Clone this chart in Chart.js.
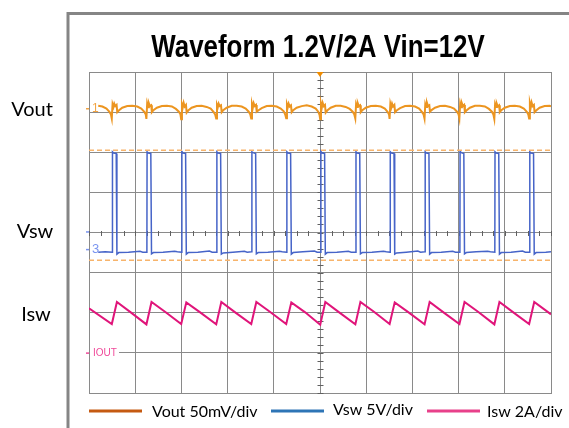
<!DOCTYPE html>
<html>
<head>
<meta charset="utf-8">
<script src="https://cdn.jsdelivr.net/npm/chart.js@4.4.1/dist/chart.umd.min.js"></script>
<style>
    html, body { margin: 0; padding: 0; background: #fff; overflow: hidden; }
    #wrap { position: relative; width: 569px; height: 428px; }
</style>
</head>
<body>
<div id="wrap"><canvas id="scope" width="569" height="428"></canvas></div>
<script>
const TITLE = "Waveform 1.2V/2A Vin=12V";
const TRACE_NAMES = ["Vout", "Vsw", "Isw"];
const LEGEND_TEXT = ["Vout 50mV/div", "Vsw 5V/div", "Isw 2A/div"];
const CH_MARKERS = ["1", "3", "IOUT"];

// time in divisions (10 across), level in divisions (8 tall)
const VOUT_T = [
    0.200, 0.291, 0.378, 0.443, 0.475,
    0.493, 0.510, 0.530, 0.547, 0.569, 0.597, 0.612, 0.645, 0.720, 0.829, 0.937, 1.045, 1.132, 1.197, 1.229,
    1.242, 1.259, 1.279, 1.296, 1.318, 1.346, 1.361, 1.394, 1.469, 1.578, 1.686, 1.794, 1.881, 1.946, 1.978,
    1.995, 2.012, 2.032, 2.049, 2.071, 2.099, 2.114, 2.147, 2.222, 2.331, 2.439, 2.547, 2.634, 2.699, 2.731,
    2.753, 2.770, 2.790, 2.807, 2.829, 2.857, 2.872, 2.905, 2.980, 3.089, 3.197, 3.305, 3.392, 3.457, 3.489,
    3.511, 3.528, 3.548, 3.565, 3.587, 3.615, 3.630, 3.663, 3.738, 3.847, 3.955, 4.063, 4.150, 4.215, 4.247,
    4.268, 4.285, 4.305, 4.322, 4.344, 4.372, 4.387, 4.420, 4.495, 4.604, 4.712, 4.820, 4.907, 4.962, 4.990,
    5.004, 5.021, 5.041, 5.058, 5.080, 5.108, 5.123, 5.156, 5.231, 5.340, 5.448, 5.556, 5.643, 5.708, 5.740,
    5.764, 5.781, 5.801, 5.818, 5.840, 5.868, 5.883, 5.916, 5.991, 6.100, 6.208, 6.316, 6.403, 6.463, 6.495,
    6.506, 6.523, 6.543, 6.560, 6.582, 6.610, 6.625, 6.658, 6.733, 6.842, 6.950, 7.058, 7.145, 7.210, 7.242,
    7.262, 7.279, 7.299, 7.316, 7.338, 7.366, 7.381, 7.414, 7.489, 7.598, 7.706, 7.814, 7.901, 7.966, 7.998,
    8.017, 8.034, 8.054, 8.071, 8.093, 8.121, 8.136, 8.169, 8.244, 8.353, 8.461, 8.569, 8.656, 8.721, 8.753,
    8.773, 8.790, 8.810, 8.827, 8.849, 8.877, 8.892, 8.925, 9.000, 9.109, 9.217, 9.325, 9.412, 9.477, 9.509,
    9.526, 9.543, 9.563, 9.580, 9.602, 9.630, 9.645, 9.678, 9.753, 9.862, 9.970, 10.000,
];
const VOUT_V = [
    7.16, 7.14, 7.09, 7.01, 6.94,
    6.84, 7.20, 7.13, 7.21, 7.15, 7.18, 7.00, 7.04, 7.11, 7.15, 7.16, 7.14, 7.09, 7.01, 6.94,
    6.83, 7.21, 7.12, 7.22, 7.15, 7.17, 7.00, 7.05, 7.11, 7.15, 7.16, 7.14, 7.08, 7.01, 6.95,
    6.82, 7.20, 7.13, 7.23, 7.14, 7.18, 6.99, 7.04, 7.11, 7.15, 7.16, 7.13, 7.09, 7.00, 6.94,
    6.84, 7.19, 7.13, 7.21, 7.15, 7.17, 7.00, 7.05, 7.11, 7.16, 7.16, 7.14, 7.09, 7.01, 6.95,
    6.84, 7.21, 7.12, 7.22, 7.15, 7.18, 7.01, 7.04, 7.10, 7.15, 7.16, 7.14, 7.09, 7.02, 6.94,
    6.85, 7.20, 7.13, 7.21, 7.14, 7.17, 7.00, 7.05, 7.11, 7.15, 7.17, 7.14, 7.09, 7.01, 6.93,
    6.82, 7.22, 7.12, 7.23, 7.15, 7.18, 6.99, 7.04, 7.11, 7.16, 7.16, 7.13, 7.08, 7.01, 6.95,
    6.84, 7.20, 7.13, 7.22, 7.15, 7.17, 7.00, 7.05, 7.11, 7.15, 7.16, 7.14, 7.09, 7.01, 6.94,
    6.83, 7.21, 7.12, 7.21, 7.14, 7.18, 7.00, 7.04, 7.10, 7.15, 7.16, 7.14, 7.09, 7.00, 6.94,
    6.84, 7.20, 7.13, 7.23, 7.15, 7.17, 7.01, 7.05, 7.11, 7.15, 7.16, 7.13, 7.09, 7.01, 6.95,
    6.84, 7.21, 7.12, 7.22, 7.15, 7.18, 7.00, 7.04, 7.11, 7.16, 7.16, 7.14, 7.08, 7.01, 6.94,
    6.83, 7.20, 7.13, 7.21, 7.14, 7.17, 7.00, 7.05, 7.11, 7.15, 7.16, 7.14, 7.09, 7.01, 6.94,
    6.84, 7.23, 7.13, 7.24, 7.15, 7.18, 7.00, 7.04, 7.11, 7.15, 7.16, 7.14,
];

const VSW_T = [
    0.200, 0.350,
    0.504, 0.508, 0.534, 0.589, 0.604, 0.644, 0.854, 1.104, 1.164,
    1.253, 1.257, 1.283, 1.338, 1.353, 1.393, 1.603, 1.853, 1.913,
    2.006, 2.010, 2.036, 2.091, 2.106, 2.146, 2.356, 2.606, 2.666,
    2.764, 2.768, 2.794, 2.849, 2.864, 2.904, 3.114, 3.364, 3.424,
    3.522, 3.526, 3.552, 3.607, 3.622, 3.662, 3.872, 4.122, 4.182,
    4.279, 4.283, 4.309, 4.364, 4.379, 4.419, 4.629, 4.879, 4.939,
    5.015, 5.019, 5.045, 5.100, 5.115, 5.155, 5.365, 5.615, 5.675,
    5.775, 5.779, 5.805, 5.860, 5.875, 5.915, 6.125, 6.375, 6.435,
    6.517, 6.521, 6.547, 6.602, 6.617, 6.657, 6.867, 7.117, 7.177,
    7.273, 7.277, 7.303, 7.358, 7.373, 7.413, 7.623, 7.873, 7.933,
    8.028, 8.032, 8.058, 8.113, 8.128, 8.168, 8.378, 8.628, 8.688,
    8.784, 8.788, 8.814, 8.869, 8.884, 8.924, 9.134, 9.384, 9.444,
    9.537, 9.541, 9.567, 9.622, 9.637, 9.677, 9.887, 10.000,
];
const VSW_V = [
    3.51, 3.52,
    3.51, 6.01, 5.98, 5.97, 3.46, 3.50, 3.51, 3.53, 3.51,
    3.51, 6.01, 5.98, 5.97, 3.47, 3.50, 3.51, 3.53, 3.52,
    3.51, 6.02, 5.98, 5.97, 3.46, 3.50, 3.51, 3.54, 3.51,
    3.51, 6.01, 5.98, 5.97, 3.46, 3.49, 3.51, 3.53, 3.51,
    3.52, 6.01, 5.99, 5.97, 3.47, 3.50, 3.51, 3.53, 3.52,
    3.51, 6.01, 5.98, 5.97, 3.46, 3.50, 3.52, 3.54, 3.51,
    3.51, 6.02, 5.98, 5.97, 3.46, 3.50, 3.51, 3.53, 3.51,
    3.51, 6.01, 5.98, 5.97, 3.47, 3.50, 3.51, 3.53, 3.52,
    3.51, 6.01, 5.98, 5.97, 3.46, 3.49, 3.51, 3.54, 3.51,
    3.52, 6.01, 5.98, 5.97, 3.46, 3.50, 3.51, 3.53, 3.51,
    3.51, 6.02, 5.99, 5.97, 3.47, 3.50, 3.52, 3.53, 3.52,
    3.51, 6.01, 5.98, 5.97, 3.46, 3.50, 3.51, 3.54, 3.51,
    3.51, 6.01, 5.98, 5.97, 3.46, 3.50, 3.51, 3.52,
];

const ISW_T = [
    0.000,
    0.494, 0.604, 0.904,
    1.243, 1.353, 1.653,
    1.996, 2.106, 2.406,
    2.754, 2.864, 3.164,
    3.512, 3.622, 3.922,
    4.269, 4.379, 4.679,
    5.005, 5.115, 5.415,
    5.765, 5.875, 6.175,
    6.507, 6.617, 6.917,
    7.263, 7.373, 7.673,
    8.018, 8.128, 8.428,
    8.774, 8.884, 9.184,
    9.527, 9.637, 10.000,
];
const ISW_V = [
    2.11,
    1.72, 2.27, 2.01,
    1.71, 2.27, 2.02,
    1.72, 2.26, 2.01,
    1.71, 2.27, 2.01,
    1.72, 2.27, 2.02,
    1.72, 2.26, 2.01,
    1.70, 2.27, 2.01,
    1.71, 2.27, 2.02,
    1.72, 2.26, 2.01,
    1.71, 2.27, 2.01,
    1.72, 2.27, 2.02,
    1.71, 2.27, 2.01,
    1.72, 2.27, 1.96,
];

const CURSOR_LEVELS = [6.05, 3.31];

const TRACE_COLORS = ["#ec9520", "#4664c8", "#e0157a"];
const LEGEND_COLORS = ["#c55a11", "#2e75b6", "#e8408a"];
const GRID_COLOR = "#8a8a8a";

function toPoints(ts, vs) {
    return ts.map((t, i) => ({ x: t, y: vs[i] }));
}

const scopeDecor = {
    id: "scopeDecor",
    beforeDatasetsDraw(chart) {
        const { ctx, scales: { x, y } } = chart;
        const cx = Math.round(x.getPixelForValue(5)) + 0.5;
        const cy = Math.round(y.getPixelForValue(4)) + 0.5;
        ctx.save();
        ctx.strokeStyle = "#606060";
        ctx.lineWidth = 1;
        ctx.beginPath();
        for (let k = 0; k <= 40; k++) {
            const py = Math.round(y.getPixelForValue(k * 0.2)) + 0.5;
            ctx.moveTo(cx - 3, py); ctx.lineTo(cx + 3, py);
        }
        for (let k = 0; k <= 40; k++) {
            const px = Math.round(x.getPixelForValue(k * 0.25)) + 0.5;
            ctx.moveTo(px, cy - 2.5); ctx.lineTo(px, cy + 2.5);
        }
        ctx.stroke();
        ctx.restore();
    },
    afterDatasetsDraw(chart) {
        const { ctx, chartArea, scales: { x, y } } = chart;
        const left = chartArea.left;
        ctx.save();

        // channel 1 marker
        ctx.fillStyle = "#f2a444";
        ctx.fillRect(left - 3, y.getPixelForValue(7.09) - 0.5, 3, 1.5);
        ctx.font = "12px 'Liberation Sans'";
        ctx.textBaseline = "middle";
        ctx.fillText(CH_MARKERS[0], left + 3, y.getPixelForValue(7.09));

        // channel 3 marker
        ctx.fillStyle = "#7a95f0";
        ctx.fillRect(left - 3, y.getPixelForValue(3.58) - 0.5, 3, 1.5);
        ctx.fillRect(left - 3, y.getPixelForValue(4.02) - 0.5, 3, 1.5);
        ctx.font = "13px 'Liberation Sans'";
        ctx.fillText(CH_MARKERS[1], left + 3, y.getPixelForValue(3.58));

        // IOUT marker
        const iy = y.getPixelForValue(1);
        ctx.fillStyle = "#fff";
        ctx.fillRect(left + 1, iy - 6, 29, 12);
        ctx.fillStyle = "#f04a9a";
        ctx.fillRect(left - 3, iy - 0.5, 3, 1.5);
        ctx.font = "10px 'Liberation Sans'";
        ctx.fillText(CH_MARKERS[2], left + 4, iy + 0.5);

        // trigger position
        const tx = x.getPixelForValue(5);
        ctx.fillStyle = "#f08c00";
        ctx.beginPath();
        ctx.moveTo(tx - 3.5, chartArea.top);
        ctx.lineTo(tx + 3.5, chartArea.top);
        ctx.lineTo(tx, chartArea.top + 5);
        ctx.closePath();
        ctx.fill();
        ctx.restore();
    },
    afterDraw(chart) {
        const { ctx } = chart;
        ctx.save();

        // outer frame
        ctx.strokeStyle = "#858585";
        ctx.lineWidth = 3;
        ctx.strokeRect(68, 13.5, 600, 500);

        // title
        ctx.fillStyle = "#000";
        ctx.font = "bold 32px 'Liberation Sans'";
        ctx.textAlign = "center";
        ctx.textBaseline = "alphabetic";
        ctx.translate(318, 57);
        ctx.scale(0.81, 1);
        ctx.fillText(TITLE, 0, 0);
        ctx.setTransform(1, 0, 0, 1, 0, 0);

        // trace names on the left
        ctx.font = "20px Lato";
        const nameX = [32, 35, 36];
        const nameY = [116, 238, 321];
        TRACE_NAMES.forEach((n, i) => ctx.fillText(n, nameX[i], nameY[i]));

        // legend
        ctx.textAlign = "left";
        ctx.font = "16px Lato";
        const lineX = [89, 271, 427];
        const textX = [152, 333, 487];
        const textY = [417, 415, 417];
        LEGEND_TEXT.forEach((t, i) => {
            ctx.fillStyle = LEGEND_COLORS[i];
            ctx.fillRect(lineX[i], 409.5, 53, 3);
            ctx.fillStyle = "#000";
            ctx.fillText(t, textX[i], textY[i]);
        });
        ctx.restore();
    },
};

const cursorSets = CURSOR_LEVELS.map(v => ({
    data: [{ x: 0, y: v }, { x: 10, y: v }],
    borderColor: "#f7b46c",
    borderWidth: 1.5,
    borderDash: [5, 3],
    pointRadius: 0,
    showLine: true,
}));

new Chart(document.getElementById("scope"), {
    type: "scatter",
    data: {
        datasets: [
            ...cursorSets,
            {
                label: TRACE_NAMES[0],
                data: toPoints(VOUT_T, VOUT_V),
                borderColor: TRACE_COLORS[0],
                borderWidth: 2,
                pointRadius: 0,
                showLine: true,
            },
            {
                label: TRACE_NAMES[1],
                data: toPoints(VSW_T, VSW_V),
                borderColor: TRACE_COLORS[1],
                borderWidth: 1.5,
                pointRadius: 0,
                showLine: true,
            },
            {
                label: TRACE_NAMES[2],
                data: toPoints(ISW_T, ISW_V),
                borderColor: TRACE_COLORS[2],
                borderWidth: 2,
                pointRadius: 0,
                showLine: true,
            },
        ],
    },
    options: {
        responsive: false,
        animation: false,
        events: [],
        layout: { padding: { left: 89, top: 72, right: 18, bottom: 35 } },
        plugins: {
            legend: { display: false },
            tooltip: { enabled: false },
        },
        scales: {
            x: {
                type: "linear",
                min: 0,
                max: 10,
                ticks: { stepSize: 1, display: false },
                grid: { color: GRID_COLOR, drawTicks: false },
                border: { color: GRID_COLOR },
            },
            y: {
                min: 0,
                max: 8,
                ticks: { stepSize: 1, display: false },
                grid: { color: GRID_COLOR, drawTicks: false },
                border: { color: GRID_COLOR },
            },
        },
    },
    plugins: [scopeDecor],
});
</script>
</body>
</html>
